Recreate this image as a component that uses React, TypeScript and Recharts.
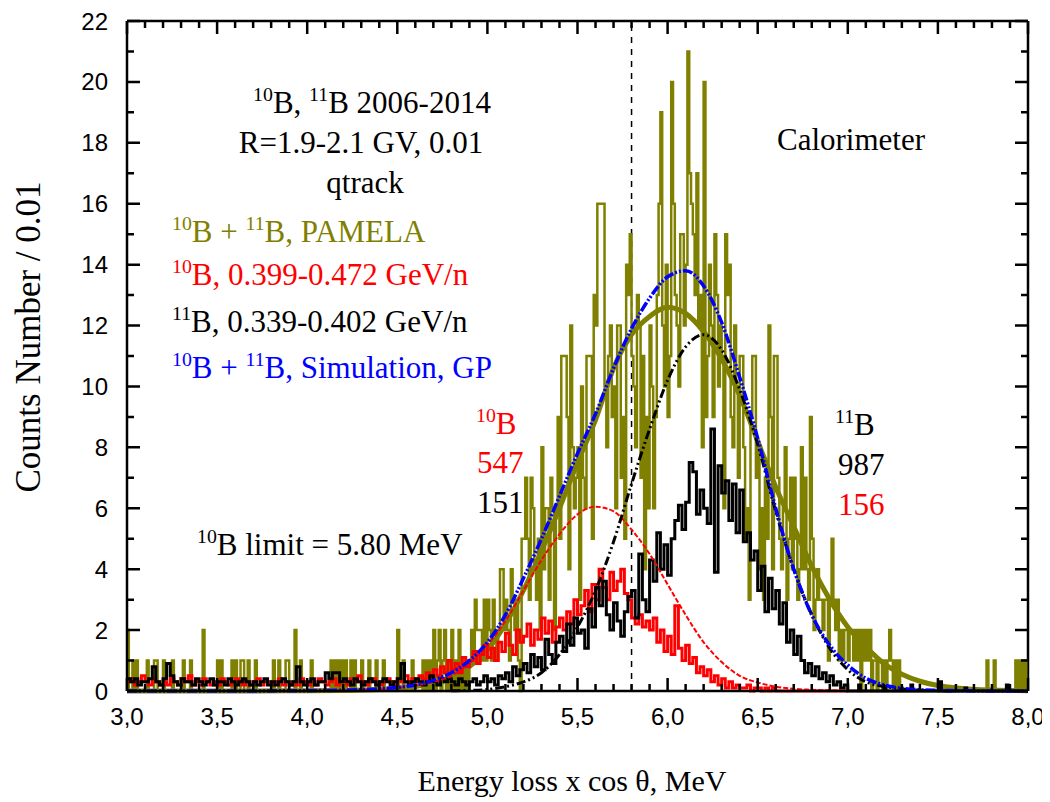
import React from "react";
import { LineChart, Line, XAxis, YAxis, ReferenceLine } from "recharts";

// ---- axis ticks ----
const X_MAJOR = [3.0, 3.5, 4.0, 4.5, 5.0, 5.5, 6.0, 6.5, 7.0, 7.5, 8.0];
const Y_MAJOR = [0, 2, 4, 6, 8, 10, 12, 14, 16, 18, 20, 22];

// ---- PAMELA histogram (10B + 11B), 0.01 MeV bins ----
// sparse bins outside the core region: [E, counts]
const OLIVE_SPARSE: [number, number][] = [
  [3.0, 2], [3.03, 1], [3.05, 1], [3.11, 1], [3.15, 1], [3.16, 1], [3.2, 1], [3.25, 1],
  [3.31, 1], [3.35, 1], [3.42, 2], [3.5, 1], [3.52, 1], [3.58, 1], [3.6, 1], [3.63, 1],
  [3.64, 1], [3.67, 1], [3.71, 1], [3.81, 1], [3.84, 1], [3.88, 1], [3.89, 1], [3.93, 2],
  [3.96, 1], [4.02, 1], [4.13, 1], [4.15, 1], [4.17, 1], [4.19, 1], [4.21, 1], [4.24, 1],
  [4.26, 1], [4.3, 1], [4.34, 1], [4.38, 1], [4.42, 1], [4.5, 2], [4.53, 1], [4.58, 1],
  [4.64, 1], [4.66, 1], [4.68, 1], [4.7, 2], [4.72, 1], [4.73, 2], [4.75, 1], [4.76, 2],
  [4.78, 1], [4.8, 2], [4.82, 1], [4.84, 2], [4.86, 1], [4.88, 1],
  [7.77, 1], [7.81, 1], [7.93, 1], [7.95, 1], [7.97, 1], [7.99, 1],
];
// core bins from 4.90 to 7.29
const OLIVE_CORE_START = 4.9;
const OLIVE_CORE = [
  1, 2, 1, 3, 2, 2, 2, 1, 3, 1,
  3, 2, 1, 3, 2, 1, 2, 4, 4, 2,
  3, 2, 1, 4, 3, 2, 3, 1, 0, 5,
  5, 7, 5, 3, 7, 6, 4, 3, 5, 2,
  8, 4, 6, 6, 3, 7, 6, 2, 6, 9,
  5, 11, 11, 11, 9, 4, 12, 8, 6, 7,
  8, 3, 10, 7, 6, 11, 11, 11, 5, 13,
  12, 16, 16, 16, 16, 10, 8, 11, 12, 9,
  10, 6, 12, 12, 7, 9, 5, 14, 13, 15,
  11, 10, 8, 13, 12, 7, 11, 4, 9, 6,
  12, 10, 6, 9, 13, 16, 19, 12, 10, 14,
  9, 11, 20, 16, 13, 12, 10, 15, 15, 12,
  14, 21, 17, 16, 15, 13, 17, 12, 13, 8,
  20, 9, 11, 14, 12, 9, 15, 13, 10, 12,
  11, 6, 15, 13, 14, 9, 8, 12, 10, 7,
  11, 11, 8, 5, 6, 3, 9, 11, 11, 7,
  8, 4, 6, 3, 7, 5, 12, 9, 4, 11,
  11, 7, 5, 4, 6, 8, 3, 5, 7, 4,
  7, 5, 3, 4, 8, 4, 7, 4, 3, 9,
  5, 2, 3, 4, 3, 3, 2, 3, 3, 1,
  3, 5, 3, 2, 3, 1, 2, 1, 2, 2,
  1, 2, 2, 1, 2, 1, 2, 0, 2, 1,
  2, 1, 2, 0, 1, 1, 0, 1, 1, 0,
  1, 0, 1, 2, 1, 0, 1, 0, 1, 0,
];

// ---- 10B histogram, 0.02 MeV steps from 3.00 ----
const RED_HIST = [
  0.3, 0.4, 0.2, 0.3, 0.5, 0.3, 0.2, 0.4, 0.3, 0.2,
  0.3, 0.2, 0.4, 0.3, 0.2, 0.4, 0.3, 0.5, 0.2, 0.3,
  0.2, 0.4, 0.3, 0.2, 0.3, 0.2, 0.4, 0.3, 0.2, 0.3,
  0.4, 0.3, 0.2, 0.3, 0.2, 0.3, 0.4, 0.2, 0.3, 0.3,
  0.2, 0.3, 0.4, 0.2, 0.3, 0.2, 0.3, 0.2, 0.4, 0.3,
  0.2, 0.3, 0.2, 0.4, 0.3, 0.2, 0.3, 0.4, 0.2, 0.3,
  0.3, 0.2, 0.4, 0.3, 0.5, 0.3, 0.2, 0.3, 0.4, 0.3,
  0.2, 0.3, 0.4, 0.3, 0.2, 0.4, 0.3, 0.5, 0.3, 0.4,
  0.3, 0.5, 0.4, 0.6, 0.4, 0.7, 0.5, 0.8, 0.6, 1.0,
  0.7, 0.9, 0.6, 1.1, 0.8, 1.0, 1.3, 0.9, 1.2, 1.5,
  1.1, 1.4, 1.0, 1.6, 1.3, 1.9, 1.5, 1.2, 2.0, 1.6,
  1.8, 2.2, 1.5, 2.0, 1.7, 2.4, 1.9, 2.3, 1.6, 2.1,
  2.4, 2.0, 2.6, 2.2, 3.0, 2.5, 2.8, 3.3, 2.6, 3.5,
  3.0, 4.0, 3.4, 3.0, 3.9, 3.3, 3.6, 4.0, 3.2, 3.0,
  2.4, 2.2, 2.5, 2.1, 2.3, 2.0, 2.4, 1.6, 2.0, 1.3,
  1.8, 1.2, 2.8, 1.4, 1.0, 1.5, 0.9, 1.1, 0.6, 0.8,
  0.5, 0.7, 0.3, 0.5, 0.2, 0.4, 0.1, 0.3, 0.1, 0.2,
  0.1, 0.1, 0.2, 0.0, 0.1, 0.1, 0.0, 0.1, 0.0, 0.1,
];

// ---- 11B histogram, 0.02 MeV steps from 3.00 ----
const BLACK_HIST = [
  0.4, 0.3, 0.4, 0.2, 0.3, 0.3, 0.4, 0.8, 0.3, 0.2,
  0.4, 0.9, 0.5, 0.3, 0.2, 0.4, 0.3, 0.3, 0.2, 0.4,
  0.3, 0.2, 0.3, 0.4, 0.2, 0.3, 0.3, 0.2, 0.4, 0.3,
  0.2, 0.3, 0.4, 0.3, 0.2, 0.3, 0.2, 0.3, 0.4, 0.2,
  0.3, 0.2, 0.3, 0.4, 0.3, 0.2, 0.3, 0.8, 0.3, 0.2,
  0.3, 0.4, 0.2, 0.3, 0.3, 0.6, 0.4, 0.6, 0.6, 0.3,
  0.4, 0.3, 0.2, 0.4, 0.3, 0.2, 0.3, 0.4, 0.3, 0.2,
  0.3, 0.4, 0.3, 0.2, 0.3, 0.4, 0.9, 0.3, 0.2, 0.3,
  0.4, 0.3, 0.2, 0.3, 0.5, 0.3, 0.2, 0.4, 0.3, 0.4,
  0.3, 0.2, 0.4, 0.3, 0.2, 0.3, 0.4, 0.2, 0.3, 0.5,
  0.3, 0.4, 0.2, 0.5, 0.4, 0.6, 0.3, 0.8, 0.5, 0.7,
  0.9, 0.6, 1.2, 0.8, 1.1, 0.7, 1.7, 1.2, 0.9, 1.6,
  1.8, 1.3, 2.2, 1.5, 2.4, 1.9, 2.0, 1.4, 2.7, 2.1,
  3.4, 2.8, 3.6, 2.5, 2.0, 2.9, 2.3, 1.8, 2.6, 3.1,
  3.3, 2.4, 4.5, 3.0, 2.6, 4.3, 3.6, 5.2, 4.0, 4.8,
  3.8, 5.0, 5.6, 6.1, 5.3, 6.2, 7.5, 7.2, 5.8, 6.6,
  6.0, 5.5, 8.6, 3.9, 7.4, 6.5, 6.9, 5.6, 6.8, 5.2,
  6.6, 4.9, 5.2, 4.3, 4.6, 3.3, 4.1, 2.6, 3.7, 2.7,
  3.3, 2.2, 2.9, 1.6, 2.0, 1.2, 1.8, 1.0, 0.6, 0.9,
  0.5, 0.8, 0.4, 0.6, 0.3, 0.5, 0.2, 0.3, 0.1, 0.2,
];
const BLACK_SPARSE: [number, number][] = [
  [7.06, 0.2], [7.2, 0.1], [7.35, 0.2], [7.51, 0.3], [7.65, 0.1], [7.88, 0.2],
];

// ---- fitted curves, read at these energies ----
const FIT_E = [
  3.0, 3.5, 4.0, 4.2, 4.4, 4.5, 4.6, 4.7, 4.8, 4.9, 5.0, 5.1, 5.2, 5.3, 5.4, 5.5, 5.6, 5.7, 5.8,
  5.9, 6.0, 6.1, 6.2, 6.3, 6.4, 6.5, 6.6, 6.7, 6.8, 6.9, 7.0, 7.1, 7.2, 7.3, 7.4, 7.5, 7.6, 7.8, 8.0,
];
const OLIVE_FIT = [
  0, 0, 0.01, 0.02, 0.05, 0.08, 0.15, 0.25, 0.42, 0.8, 1.35, 2.2, 3.3, 4.6, 6.0, 7.5, 8.9, 10.6, 11.7,
  12.3, 12.6, 12.4, 11.8, 10.9, 9.7, 8.2, 6.7, 5.4, 4.1, 3.0, 2.1, 1.45, 0.9, 0.55, 0.32, 0.18, 0.1, 0.03, 0.01,
];
const BLUE_FIT = [
  0, 0, 0.01, 0.03, 0.07, 0.12, 0.2, 0.35, 0.6, 1.0, 1.6, 2.5, 3.7, 5.0, 6.4, 7.8, 9.1, 10.6, 11.9,
  12.9, 13.6, 13.8, 13.3, 12.1, 10.3, 8.3, 6.0, 4.0, 2.5, 1.5, 0.85, 0.42, 0.2, 0.09, 0.04, 0.02, 0.01, 0, 0,
];
const RED_FIT = [
  0, 0, 0.01, 0.02, 0.06, 0.1, 0.18, 0.3, 0.5, 0.9, 1.5, 2.3, 3.3, 4.3, 5.15, 5.8, 6.05, 5.9, 5.3,
  4.5, 3.5, 2.5, 1.6, 0.95, 0.5, 0.28, 0.14, 0.07, 0.04, 0.02, 0.01, 0, 0, 0, 0, 0, 0, 0, 0,
];
const BLACK_FIT = [
  null, null, null, null, null, null, null, null, 0.01, 0.02, 0.05, 0.14, 0.3, 0.6, 1.2, 2.1, 3.3, 4.9, 6.8,
  8.6, 10.2, 11.3, 11.7, 11.2, 9.9, 8.1, 5.9, 4.0, 2.5, 1.4, 0.7, 0.3, 0.15, 0.07, 0.03, 0.01, 0, null, null,
];

const OLIVE = "#808000";
const RED = "#ff0000";
const BLUE = "#0000ff";

const PLOT_L = 127;
const PLOT_R = 1028;
const PLOT_T = 21;
const PLOT_B = 691;
const AXIS_SIZE = 40;
const X_MIN = 3;
const X_MAX = 8;
const Y_MAX = 22;
const PX_PER_X = (PLOT_R - PLOT_L) / (X_MAX - X_MIN);
const PX_PER_Y = (PLOT_B - PLOT_T) / Y_MAX;

const r2 = (v: number) => Math.round(v * 100) / 100;

function oliveBins() {
  const sparse = new Map(OLIVE_SPARSE.map(([e, n]) => [r2(e), n]));
  const pts: { x: number; y: number }[] = [];
  for (let i = 0; i < 500; i++) {
    const e = r2(3 + i * 0.01);
    let n = sparse.get(e) ?? 0;
    const k = Math.round((e - OLIVE_CORE_START) * 100);
    if (k >= 0 && k < OLIVE_CORE.length) n = OLIVE_CORE[k];
    pts.push({ x: e, y: n });
  }
  pts.push({ x: 8, y: pts[pts.length - 1].y });
  return pts;
}

function coarseBins(vals: number[], tail: [number, number][], end: number) {
  const pts = vals.map((v, i) => ({ x: r2(3 + i * 0.02), y: v }));
  const sparse = new Map(tail.map(([e, n]) => [r2(e), n]));
  let e = r2(3 + vals.length * 0.02);
  while (e <= end) {
    pts.push({ x: e, y: sparse.get(e) ?? 0 });
    e = r2(e + 0.01);
  }
  return pts;
}

const fit = (vals: (number | null)[]) => FIT_E.map((e, i) => ({ x: e, y: vals[i] }));

const oliveData = oliveBins();
const redData = coarseBins(RED_HIST, [], 7.0);
const blackData = coarseBins(BLACK_HIST, BLACK_SPARSE, 8.0);

const xTicks: number[] = [];
X_MAJOR.forEach((m, i) => {
  xTicks.push(m);
  if (i < X_MAJOR.length - 1) for (let k = 1; k < 5; k++) xTicks.push(r2(m + k * 0.1));
});
const yTicks: number[] = [];
Y_MAJOR.forEach((m, i) => {
  yTicks.push(m);
  if (i < Y_MAJOR.length - 1) yTicks.push(m + 1);
});

const isXMajor = (v: number) => Math.abs(v * 2 - Math.round(v * 2)) < 1e-6;
const isYMajor = (v: number) => v % 2 === 0;

const TICK_FONT = "'Liberation Sans', Arial, sans-serif";

function XTick(props: any) {
  const { x, payload } = props;
  const v = payload.value as number;
  if (!isXMajor(v)) return <g />;
  return (
    <text x={x} y={PLOT_B + 34} textAnchor="middle" fontFamily={TICK_FONT} fontSize={24} fill="#000">
      {v.toFixed(1).replace(".", ",")}
    </text>
  );
}

function YTick(props: any) {
  const { y, payload } = props;
  const v = payload.value as number;
  if (!isYMajor(v)) return <g />;
  return (
    <text x={PLOT_L - 19} y={y + 8.5} textAnchor="end" fontFamily={TICK_FONT} fontSize={24} fill="#000">
      {v}
    </text>
  );
}

// inward tick marks on all four sides of the frame
function TickMarks() {
  const segs: string[] = [];
  xTicks.forEach((v) => {
    const len = isXMajor(v) ? 13 : 7;
    const x = PLOT_L + (v - X_MIN) * PX_PER_X;
    segs.push(`M${x},${PLOT_B}V${PLOT_B - len}`, `M${x},${PLOT_T}V${PLOT_T + len}`);
  });
  yTicks.forEach((v) => {
    const len = isYMajor(v) ? 13 : 7;
    const y = PLOT_B - v * PX_PER_Y;
    segs.push(`M${PLOT_L},${y}H${PLOT_L + len}`, `M${PLOT_R},${y}H${PLOT_R - len}`);
  });
  return (
    <svg
      width={1050}
      height={802}
      style={{ position: "absolute", left: 0, top: 0, pointerEvents: "none" }}
    >
      <path d={segs.join("")} stroke="#000" strokeWidth={2.5} fill="none" />
    </svg>
  );
}

const Sup = ({ children }: { children: React.ReactNode }) => (
  <span style={{ fontSize: "0.64em", position: "relative", top: "-0.6em" }}>{children}</span>
);

function Note({
  x,
  y,
  color = "#000",
  center = false,
  children,
}: {
  x: number;
  y: number;
  color?: string;
  center?: boolean;
  children: React.ReactNode;
}) {
  return (
    <div
      style={{
        position: "absolute",
        left: x,
        top: y - 16,
        color,
        fontSize: 31,
        lineHeight: "31px",
        whiteSpace: "nowrap",
        transform: center ? "translateX(-50%)" : undefined,
      }}
    >
      {children}
    </div>
  );
}

export default function App() {
  return (
    <div
      style={{
        position: "relative",
        width: 1050,
        height: 802,
        margin: "-8px 0 0 -8px",
        background: "#fff",
        fontFamily: "'Liberation Serif', 'Times New Roman', serif",
      }}
    >
      <LineChart
        width={1050}
        height={802}
        margin={{
          top: PLOT_T,
          right: 1050 - PLOT_R,
          bottom: 802 - PLOT_B - AXIS_SIZE,
          left: PLOT_L - AXIS_SIZE,
        }}
      >
        <XAxis
          dataKey="x"
          type="number"
          domain={[X_MIN, X_MAX]}
          ticks={xTicks}
          interval={0}
          height={AXIS_SIZE}
          tickLine={false}
          tick={(p: any) => <XTick {...p} />}
          axisLine={{ stroke: "#000", strokeWidth: 2.5 }}
        />
        <YAxis
          type="number"
          domain={[0, Y_MAX]}
          ticks={yTicks}
          interval={0}
          width={AXIS_SIZE}
          tickLine={false}
          tick={(p: any) => <YTick {...p} />}
          axisLine={{ stroke: "#000", strokeWidth: 2.5 }}
        />
        <ReferenceLine y={Y_MAX} stroke="#000" strokeWidth={2.5} />
        <ReferenceLine x={X_MAX} stroke="#000" strokeWidth={2.5} />
        <ReferenceLine x={5.8} stroke="#000" strokeWidth={1.5} strokeDasharray="6 6" />

        <Line data={oliveData} dataKey="y" type="stepAfter" stroke={OLIVE} strokeWidth={2.5}
          dot={false} activeDot={false} isAnimationActive={false} />
        <Line data={fit(OLIVE_FIT)} dataKey="y" type="monotone" stroke={OLIVE} strokeWidth={5}
          dot={false} activeDot={false} isAnimationActive={false} />
        <Line data={redData} dataKey="y" type="stepAfter" stroke={RED} strokeWidth={3}
          dot={false} activeDot={false} isAnimationActive={false} />
        <Line data={blackData} dataKey="y" type="stepAfter" stroke="#000" strokeWidth={3}
          dot={false} activeDot={false} isAnimationActive={false} />
        <Line data={fit(RED_FIT)} dataKey="y" type="monotone" stroke={RED} strokeWidth={2}
          strokeDasharray="5 2" dot={false} activeDot={false} isAnimationActive={false} />
        <Line data={fit(BLACK_FIT)} dataKey="y" type="monotone" stroke="#000" strokeWidth={3}
          strokeDasharray="9 3 2 3 2 3" dot={false} activeDot={false} isAnimationActive={false} />
        <Line data={fit(BLUE_FIT)} dataKey="y" type="monotone" stroke={BLUE} strokeWidth={3.5}
          strokeDasharray="10 2 2 2 2 2" dot={false} activeDot={false} isAnimationActive={false} />
      </LineChart>

      <TickMarks />

      <Note x={372} y={103} center>
        <Sup>10</Sup>B, <Sup>11</Sup>B 2006-2014
      </Note>
      <Note x={361} y={143} center>R=1.9-2.1 GV, 0.01</Note>
      <Note x={365} y={183} center>qtrack</Note>
      <Note x={172} y={232} color={OLIVE}>
        <Sup>10</Sup>B + <Sup>11</Sup>B, PAMELA
      </Note>
      <Note x={172} y={275} color={RED}>
        <Sup>10</Sup>B, 0.399-0.472 GeV/n
      </Note>
      <Note x={172} y={322} color="#000">
        <Sup>11</Sup>B, 0.339-0.402 GeV/n
      </Note>
      <Note x={172} y={368} color={BLUE}>
        <Sup>10</Sup>B + <Sup>11</Sup>B, Simulation, GP
      </Note>
      <Note x={476} y={424} color={RED}>
        <Sup>10</Sup>B
      </Note>
      <Note x={477} y={463} color={RED}>547</Note>
      <Note x={477} y={503} color="#000">151</Note>
      <Note x={197} y={545} color="#000">
        <Sup>10</Sup>B limit = 5.80 MeV
      </Note>
      <Note x={777} y={140} color="#000">Calorimeter</Note>
      <Note x={835} y={425} color="#000">
        <Sup>11</Sup>B
      </Note>
      <Note x={838} y={465} color="#000">987</Note>
      <Note x={838} y={505} color={RED}>156</Note>

      <div
        style={{
          position: "absolute",
          left: 572,
          top: 766,
          transform: "translateX(-50%)",
          fontSize: 30,
          lineHeight: "30px",
          whiteSpace: "nowrap",
        }}
      >
        Energy loss x cos θ, MeV
      </div>
      <div
        style={{
          position: "absolute",
          left: 28,
          top: 337,
          transform: "translate(-50%, -50%) rotate(-90deg)",
          fontSize: 35,
          lineHeight: "35px",
          whiteSpace: "nowrap",
        }}
      >
        Counts Number / 0.01
      </div>
    </div>
  );
}
